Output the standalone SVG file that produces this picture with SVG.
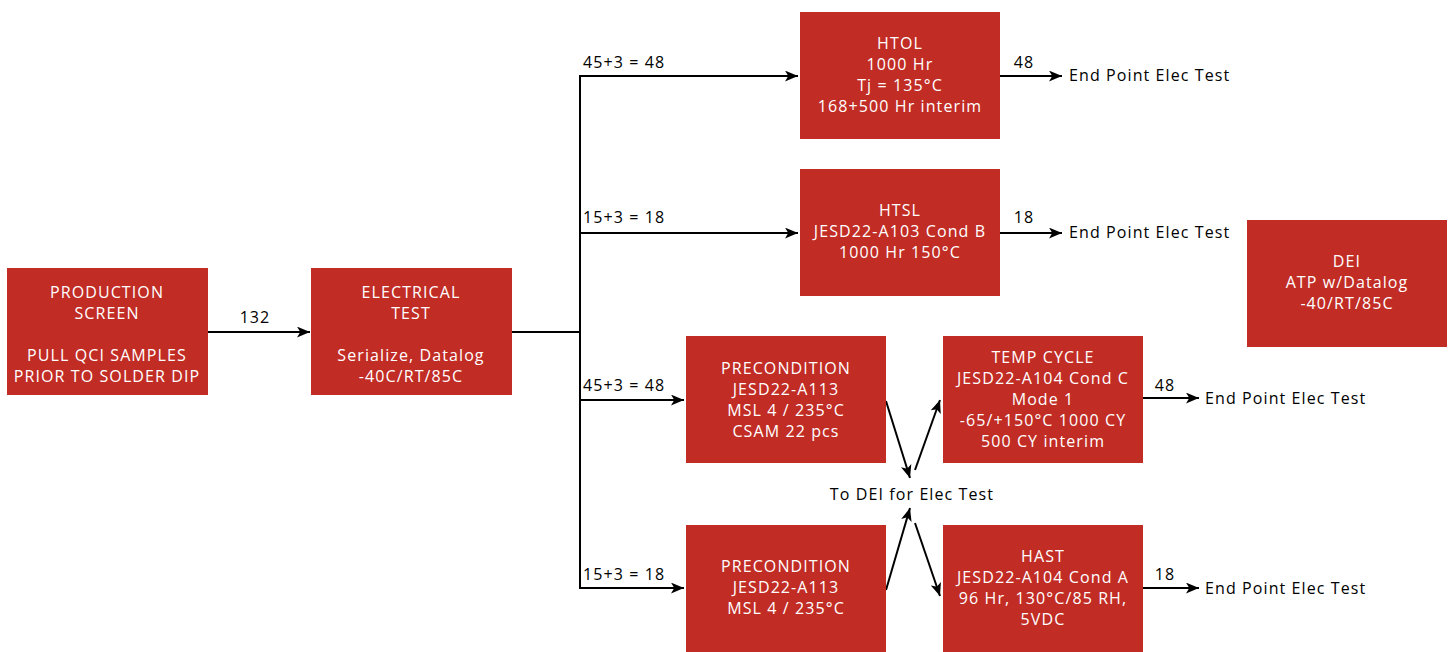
<svg xmlns="http://www.w3.org/2000/svg" width="1450" height="652" viewBox="0 0 1450 652">
<defs>
<marker id="ah" viewBox="0 0 12 10" refX="12" refY="5" markerWidth="13" markerHeight="11" markerUnits="userSpaceOnUse" orient="auto">
<path d="M0,0 L12,5 L0,10 L3,5 z" fill="#000"/>
</marker>
<style>
.box{fill:#c12c25;}
.bt{font-family:"Open Sans","Noto Sans",sans-serif;font-size:16px;fill:#fff;text-anchor:middle;letter-spacing:1.1px;}
.lt{font-family:"Open Sans","Noto Sans",sans-serif;font-size:16px;fill:#000;letter-spacing:1.1px;}
.ln{fill:none;stroke:#000;stroke-width:2;}
.ar{fill:none;stroke:#000;stroke-width:2;marker-end:url(#ah);}
</style>
</defs>
<rect width="1450" height="652" fill="#fff"/>
<g id="connectors">
<line class="ar" x1="208" y1="332" x2="310" y2="332"/>
<text class="lt" x="255" y="323" text-anchor="middle">132</text>
<polyline class="ln" points="512,332 580,332"/>
<line class="ln" x1="580" y1="75" x2="580" y2="589"/>
<line class="ar" x1="579" y1="76" x2="798" y2="76"/>
<text class="lt" x="583" y="68">45+3 = 48</text>
<line class="ar" x1="579" y1="233" x2="798" y2="233"/>
<text class="lt" x="583" y="223">15+3 = 18</text>
<line class="ar" x1="579" y1="400" x2="684" y2="400"/>
<text class="lt" x="583" y="391">45+3 = 48</text>
<line class="ar" x1="579" y1="588" x2="684" y2="588"/>
<text class="lt" x="583" y="580">15+3 = 18</text>
<line class="ar" x1="1000" y1="76" x2="1062" y2="76"/>
<text class="lt" x="1024" y="68" text-anchor="middle">48</text>
<text class="lt" x="1069" y="81">End Point Elec Test</text>
<line class="ar" x1="1000" y1="233" x2="1062" y2="233"/>
<text class="lt" x="1024" y="223" text-anchor="middle">18</text>
<text class="lt" x="1069" y="238">End Point Elec Test</text>
<line class="ar" x1="1143" y1="398" x2="1199" y2="398"/>
<text class="lt" x="1165" y="391" text-anchor="middle">48</text>
<text class="lt" x="1205" y="404">End Point Elec Test</text>
<line class="ar" x1="1143" y1="588" x2="1199" y2="588"/>
<text class="lt" x="1165" y="580" text-anchor="middle">18</text>
<text class="lt" x="1205" y="594">End Point Elec Test</text>
<line class="ar" x1="886" y1="401" x2="910" y2="478"/>
<line class="ar" x1="915" y1="470" x2="940" y2="400"/>
<line class="ar" x1="886" y1="590" x2="910" y2="508"/>
<line class="ar" x1="915" y1="523" x2="940" y2="596"/>
<text class="lt" x="912" y="500" text-anchor="middle">To DEI for Elec Test</text>
</g>
<g id="production">
<rect class="box" x="7" y="268" width="201" height="127"/>
<text class="bt" x="107" y="298">PRODUCTION</text>
<text class="bt" x="107" y="319">SCREEN</text>
<text class="bt" x="107" y="361">PULL QCI SAMPLES</text>
<text class="bt" x="107" y="382">PRIOR TO SOLDER DIP</text>
</g>
<g id="electrical">
<rect class="box" x="311" y="268" width="201" height="127"/>
<text class="bt" x="411" y="298">ELECTRICAL</text>
<text class="bt" x="411" y="319">TEST</text>
<text class="bt" x="411" y="361">Serialize, Datalog</text>
<text class="bt" x="411" y="382">-40C/RT/85C</text>
</g>
<g id="htol">
<rect class="box" x="800" y="12" width="200" height="127"/>
<text class="bt" x="900" y="49">HTOL</text>
<text class="bt" x="900" y="70">1000 Hr</text>
<text class="bt" x="900" y="91">Tj = 135°C</text>
<text class="bt" x="900" y="112">168+500 Hr interim</text>
</g>
<g id="htsl">
<rect class="box" x="800" y="169" width="200" height="127"/>
<text class="bt" x="900" y="216">HTSL</text>
<text class="bt" x="900" y="237">JESD22-A103 Cond B</text>
<text class="bt" x="900" y="258">1000 Hr 150°C</text>
</g>
<g id="dei">
<rect class="box" x="1247" y="220" width="200" height="127"/>
<text class="bt" x="1347" y="267">DEI</text>
<text class="bt" x="1347" y="288">ATP w/Datalog</text>
<text class="bt" x="1347" y="309">-40/RT/85C</text>
</g>
<g id="precond1">
<rect class="box" x="686" y="336" width="200" height="127"/>
<text class="bt" x="786" y="374">PRECONDITION</text>
<text class="bt" x="786" y="395">JESD22-A113</text>
<text class="bt" x="786" y="416">MSL 4 / 235°C</text>
<text class="bt" x="786" y="437">CSAM 22 pcs</text>
</g>
<g id="tempcycle">
<rect class="box" x="943" y="336" width="200" height="127"/>
<text class="bt" x="1043" y="363">TEMP CYCLE</text>
<text class="bt" x="1043" y="384">JESD22-A104 Cond C</text>
<text class="bt" x="1043" y="405">Mode 1</text>
<text class="bt" x="1043" y="426">-65/+150°C 1000 CY</text>
<text class="bt" x="1043" y="447">500 CY interim</text>
</g>
<g id="precond2">
<rect class="box" x="686" y="525" width="200" height="127"/>
<text class="bt" x="786" y="572">PRECONDITION</text>
<text class="bt" x="786" y="593">JESD22-A113</text>
<text class="bt" x="786" y="614">MSL 4 / 235°C</text>
</g>
<g id="hast">
<rect class="box" x="943" y="525" width="200" height="127"/>
<text class="bt" x="1043" y="562">HAST</text>
<text class="bt" x="1043" y="583">JESD22-A104 Cond A</text>
<text class="bt" x="1043" y="604">96 Hr, 130°C/85 RH,</text>
<text class="bt" x="1043" y="625">5VDC</text>
</g>
</svg>
